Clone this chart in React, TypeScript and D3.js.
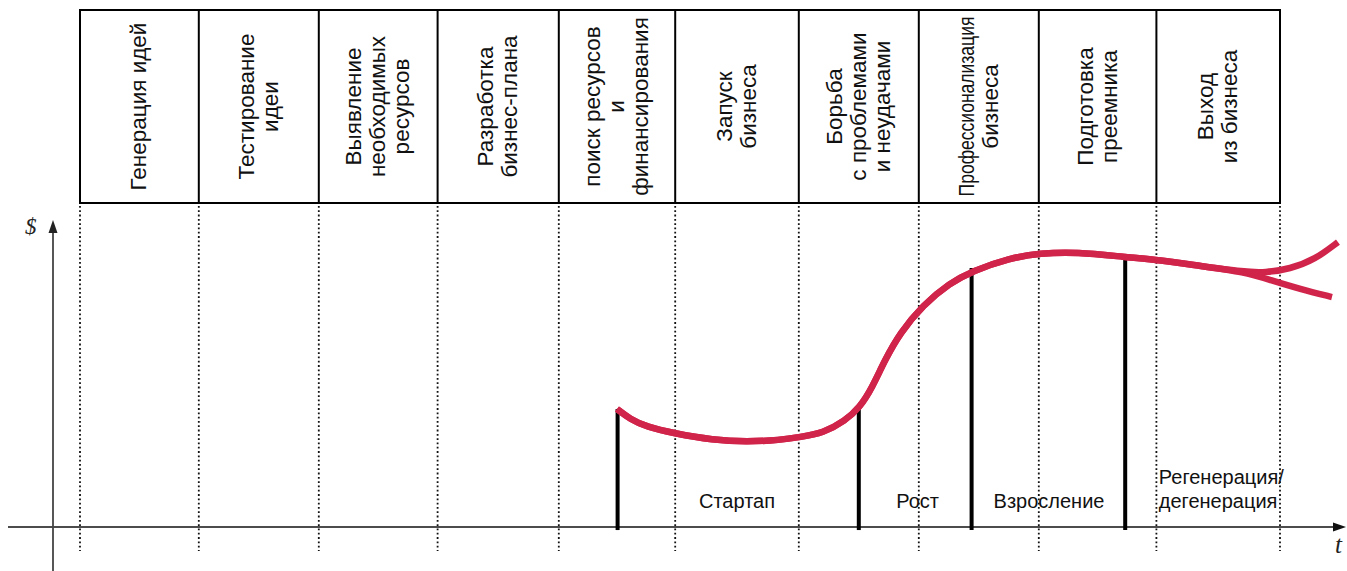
import React, { useLayoutEffect, useRef, useState } from 'react';
import * as d3 from 'd3';

// Stage columns (header), read left to right
const STAGE_LINES: string[][] = [
  ['Генерация идей'],
  ['Тестирование', 'идеи'],
  ['Выявление', 'необходимых', 'ресурсов'],
  ['Разработка', 'бизнес-плана'],
  ['поиск ресурсов', 'и', 'финансирования'],
  ['Запуск', 'бизнеса'],
  ['Борьба', 'с проблемами', 'и неудачами'],
  ['Профессионализация', 'бизнеса'],
  ['Подготовка', 'преемника'],
  ['Выход', 'из бизнеса'],
];
// column boundaries in stage units
const BOUNDS = [0, 0.99, 1.99, 2.98, 3.99, 4.96, 5.99, 6.99, 7.99, 8.97, 10];

// main life-cycle curve (stage units / relative $)
const MAIN_T = [4.475, 4.583, 4.725, 4.942, 5.275, 5.558, 5.833, 6.0, 6.192, 6.375, 6.5, 6.6, 6.708, 6.833, 7.025, 7.25, 7.433, 7.75, 8.0, 8.308, 8.708, 9.0, 9.333, 9.708];
const MAIN_V = [38.7, 35.4, 32.8, 30.8, 28.5, 27.9, 28.5, 29.5, 30.8, 34.8, 39.3, 45.6, 54.8, 63.6, 72.8, 80.0, 83.9, 88.2, 89.8, 90.2, 88.5, 87.5, 85.6, 83.6];
// regeneration (up) / degeneration (down) branches
const UP_T = [9.875, 10.083, 10.292, 10.483];
const UP_V = [83.4, 84.6, 87.7, 93.4];
const DOWN_T = [9.917, 10.167, 10.433];
const DOWN_V = [81.0, 78.0, 75.4];

// phase separators
const BAR_T = [4.48, 6.49, 7.43, 8.71];
const BAR_V = [38.7, 40.0, 84.9, 88.2];

// phase labels
const PHASE_LINES: string[][] = [['Стартап'], ['Рост'], ['Взросление'], ['Регенерация/', 'дегенерация']];
const PHASE_T = [5.475, 6.98, 8.075, 8.99];
const PHASE_ANCHOR = ['middle', 'middle', 'middle', 'start'];

const W = 1347;
const H = 571;
const RED = '#d0244b';
const FONT = '"Liberation Sans", Arial, sans-serif';
const SQUEEZED = 'Профессионализация';
const SQUEEZE_LEN = 180;

export default function App() {
  const squeezeRef = useRef<SVGTextElement>(null);
  const [sx, setSx] = useState(0.85);

  useLayoutEffect(() => {
    const el = squeezeRef.current;
    if (!el) return;
    const len = el.getComputedTextLength();
    if (len > 0) setSx(Math.min(1, SQUEEZE_LEN / len));
  }, []);

  const x = d3.scaleLinear().domain([0, 10]).range([80, 1280]);
  const y = d3.scaleLinear().domain([0, 100]).range([527, 222]);

  const line = d3.line<[number, number]>()
    .x(d => x(d[0]))
    .y(d => y(d[1]))
    .curve(d3.curveBasis);

  const mainPts: [number, number][] = MAIN_T.map((t, i) => [t, MAIN_V[i]]);
  const upPts = mainPts.concat(UP_T.map((t, i) => [t, UP_V[i]] as [number, number]));
  const downPts = mainPts.concat(DOWN_T.map((t, i) => [t, DOWN_V[i]] as [number, number]));

  const headTop = 10;
  const headBot = 203;
  const headMid = (headTop + headBot) / 2;
  const lh = 24;

  return (
    <svg width={W} height={H} style={{ position: 'absolute', left: 0, top: 0, background: '#fff' }}>
      {/* header table */}
      <rect x={x(0)} y={headTop} width={x(10) - x(0)} height={headBot - headTop}
        fill="none" stroke="#000" strokeWidth={2} />
      {BOUNDS.slice(1, -1).map((b, i) => (
        <line key={'hb' + i} x1={x(b)} x2={x(b)} y1={headTop} y2={headBot} stroke="#000" strokeWidth={2} />
      ))}
      {STAGE_LINES.map((lines, i) => {
        const cx = (x(BOUNDS[i]) + x(BOUNDS[i + 1])) / 2;
        const n = lines.length;
        return (
          <g key={'st' + i} transform={`translate(${cx},${headMid}) rotate(-90)`}>
            {lines.map((s, j) => {
              const ly = (j - (n - 1) / 2) * lh + 7;
              if (s === SQUEEZED) {
                // condensed horizontally so it fits the column height
                return (
                  <text key={j} ref={squeezeRef} transform={`translate(0,${ly}) scale(${sx},1)`}
                    textAnchor="middle" fontFamily={FONT} fontSize={22} fill="#111">{s}</text>
                );
              }
              return (
                <text key={j} x={0} y={ly} textAnchor="middle" fontFamily={FONT} fontSize={22.5} fill="#111">{s}</text>
              );
            })}
          </g>
        );
      })}

      {/* dotted stage boundaries */}
      {BOUNDS.map((b, i) => (
        <line key={'db' + i} x1={x(b)} x2={x(b)} y1={206} y2={551}
          stroke="#111" strokeWidth={1.8} strokeDasharray="1.8 2.5" />
      ))}

      {/* axes */}
      <line x1={8} x2={1336} y1={y(0)} y2={y(0)} stroke="#111" strokeWidth={1.5} />
      <path d={`M1346,${y(0)} L1333,${y(0) - 4.5} L1333,${y(0) + 4.5} Z`} fill="#111" />
      <line x1={53} x2={53} y1={571} y2={230} stroke="#444" strokeWidth={1.8} />
      <path d="M53,220 L48.5,233 L57.5,233 Z" fill="#222" />
      <text x={25} y={234} fontFamily='"Liberation Serif", serif' fontStyle="italic" fontSize={23} fill="#222">$</text>
      <text x={1335} y={553} fontFamily='"Liberation Serif", serif' fontStyle="italic" fontSize={25} fill="#222">t</text>

      {/* phase separators */}
      {BAR_T.map((t, i) => (
        <line key={'bar' + i} x1={x(t)} x2={x(t)} y1={y(-1)} y2={y(BAR_V[i])} stroke="#000" strokeWidth={4} />
      ))}

      {/* curves */}
      <path d={line(downPts) || ''} fill="none" stroke={RED} strokeWidth={6.5} strokeLinecap="butt" />
      <path d={line(upPts) || ''} fill="none" stroke={RED} strokeWidth={6.5} strokeLinecap="butt" />

      {/* phase labels */}
      {PHASE_LINES.map((lines, i) => {
        const n = lines.length;
        return (
          <text key={'ph' + i} x={x(PHASE_T[i])} y={0} textAnchor={PHASE_ANCHOR[i]}
            fontFamily={FONT} fontSize={20} fill="#111">
            {lines.map((s, j) => (
              <tspan key={j} x={x(PHASE_T[i])} y={508 - (n - 1 - j) * lh}>{s}</tspan>
            ))}
          </text>
        );
      })}
    </svg>
  );
}
